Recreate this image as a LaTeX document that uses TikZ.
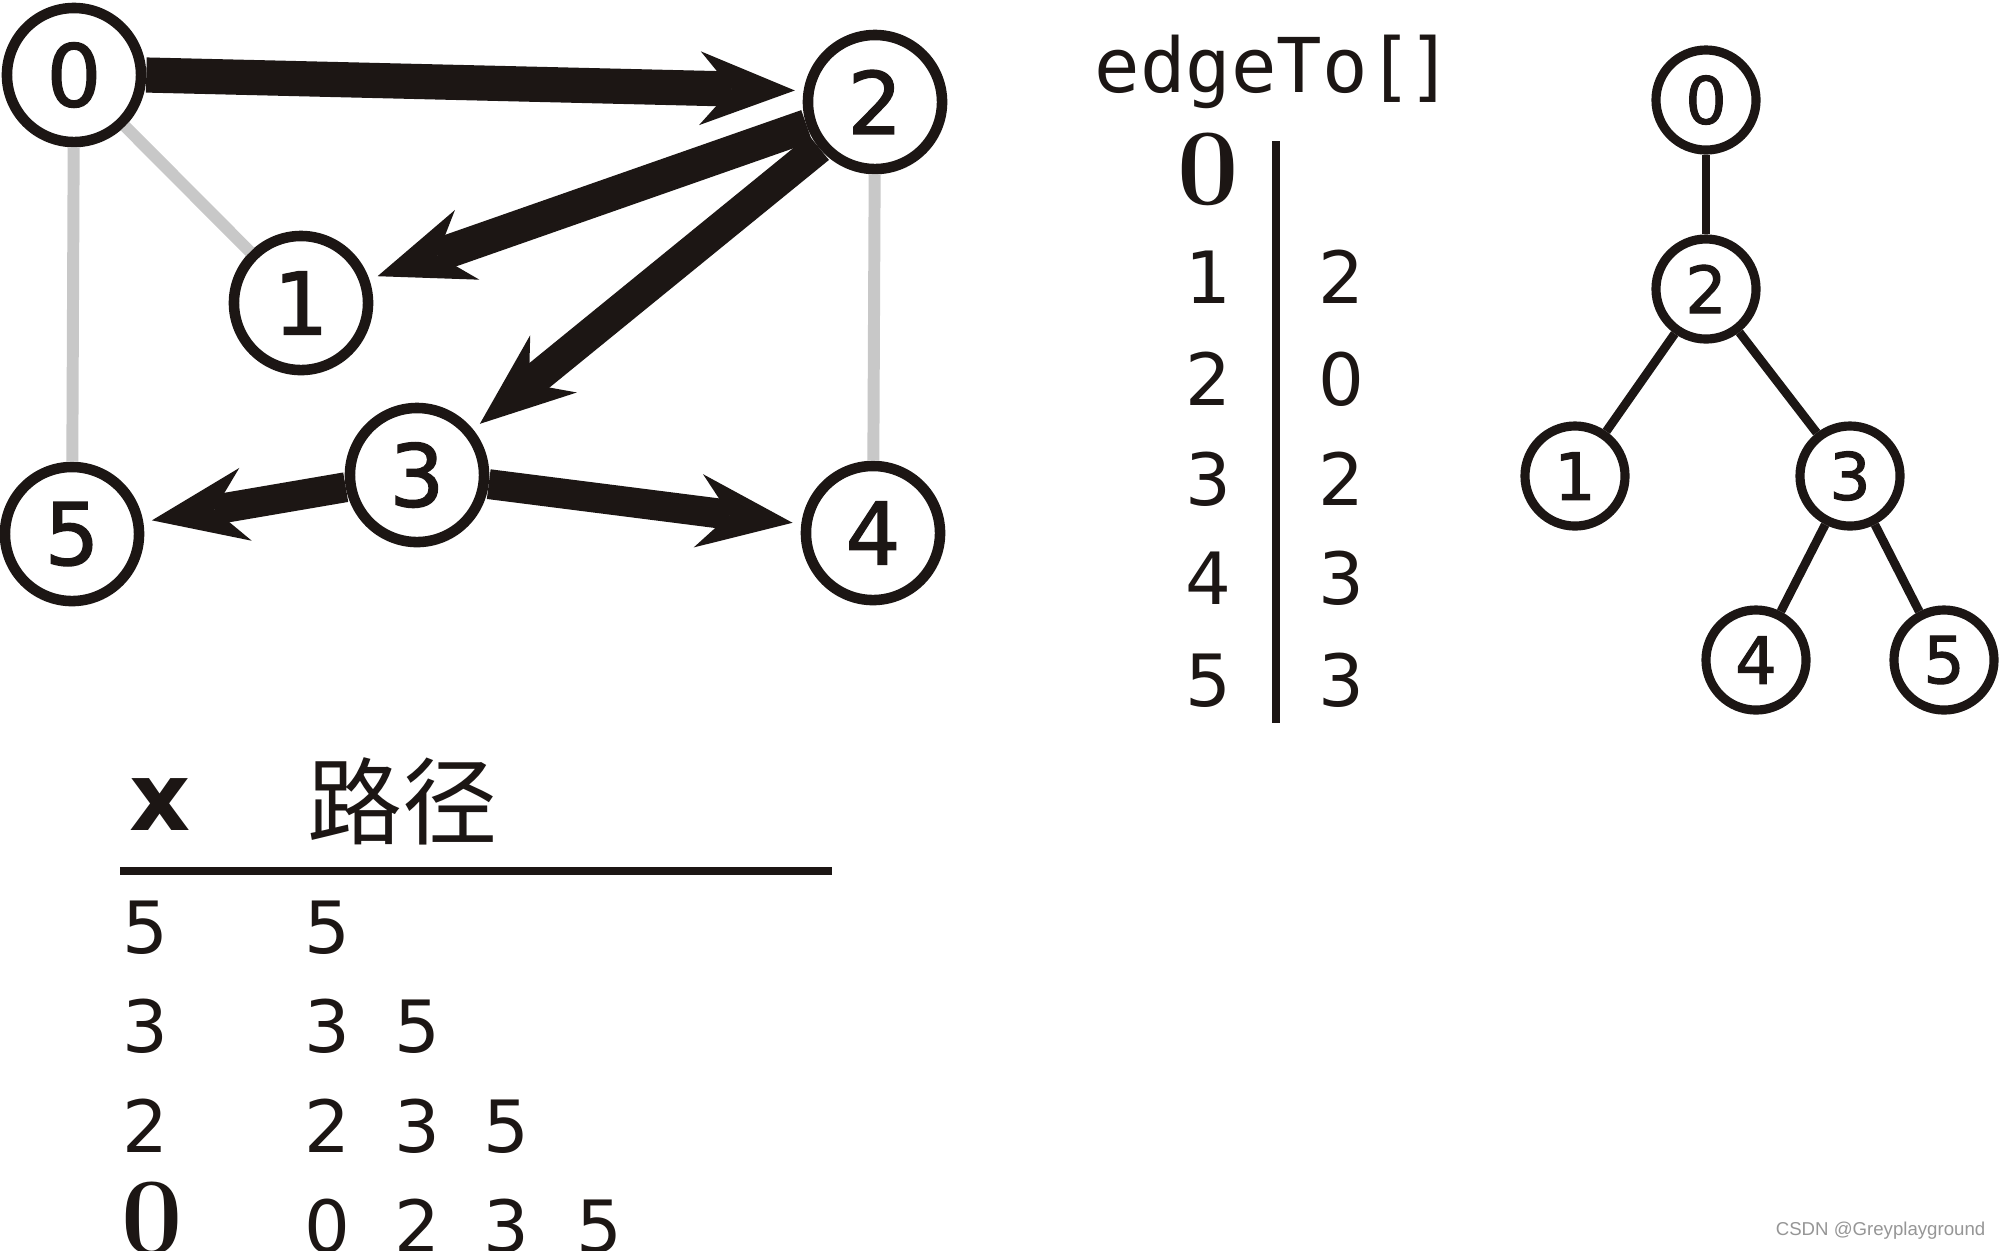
\documentclass[tikz,border=0pt]{standalone}
\usepackage{fontspec}
\setmainfont{DejaVu Sans}
\newfontfamily\cjkf{Noto Sans CJK SC}
\newfontfamily\monof{DejaVu Sans Mono}
\newfontfamily\lmf{Latin Modern Roman}
\newfontfamily\gnum[FakeBold=1.6]{DejaVu Sans}
\newfontfamily\wmf{Liberation Sans}
\usetikzlibrary{arrows.meta}
\definecolor{edgegray}{RGB}{200,200,200}
\definecolor{inkc}{RGB}{28,22,20}
\definecolor{wmgray}{RGB}{150,150,150}
\begin{document}
\begin{tikzpicture}[x=0.01cm,y=-0.01cm,
  gnode/.style={circle,draw=inkc,fill=white,line width=3pt,minimum size=1.34cm,inner sep=0pt,text=inkc,font=\gnum\fontsize{24.5}{24.5}\selectfont},
  tnode/.style={circle,draw=inkc,fill=white,line width=2.6pt,minimum size=1.0cm,inner sep=0pt,text=inkc,font=\gnum\fontsize{18.5}{18.5}\selectfont},
  grayedge/.style={line width=3.4pt,draw=edgegray},
  arr/.style={line width=#1,draw=inkc,-{Stealth[length=27pt,width=21pt,inset=9pt,line width=0pt]},shorten >=2.5pt},
  arr/.default=6.5pt,
  tedge/.style={line width=2.5pt,draw=inkc},
  numtxt/.style={anchor=base,inner sep=0pt,text=inkc,font=\fontsize{20.5}{20.5}\selectfont},
  boldzero/.style={anchor=base,inner sep=0pt,text=inkc,font=\lmf\bfseries\fontsize{31}{31}\selectfont}
]
\fill[white] (0,0) rectangle (2000,1250);
\useasboundingbox (0,0) rectangle (2000,1250);

% ---- left graph ----
\node[gnode] (g0) at (74,75) {0};
\node[gnode] (g2) at (875,102) {2};
\node[gnode] (g1) at (301,303) {1};
\node[gnode] (g3) at (417,475) {3};
\node[gnode] (g5) at (72,534) {5};
\node[gnode] (g4) at (873,533) {4};

\draw[grayedge] (g0) -- (g1);
\draw[grayedge] (g0) -- (g5);
\draw[grayedge] (g2) -- (g4);

\draw[arr=10pt] (g0.east) -- (g2.171);
\draw[arr=9.5pt] (g2) -- (g1);
\draw[arr=9pt] (g2) -- (g3);
\draw[arr=8.5pt] (g3) -- (g5);
\draw[arr=8.5pt] (g3) -- (g4);

% ---- edgeTo table ----
\node[anchor=base west,inner sep=0pt,text=inkc,font=\monof\fontsize{21.5}{21.5}\selectfont] (et) at (1094,92) {edgeTo[\kern-0.08em]};
\node[boldzero] (tz) at (1208,204) {0};
\node[numtxt] (l1) at (1208,303) {1};
\node[numtxt] (l2) at (1208,405) {2};
\node[numtxt] (l3) at (1208,505) {3};
\node[numtxt] (l4) at (1208,604) {4};
\node[numtxt] (l5) at (1208,706) {5};
\node[numtxt] (r1) at (1341,303) {2};
\node[numtxt] (r2) at (1341,405) {0};
\node[numtxt] (r3) at (1341,505) {2};
\node[numtxt] (r4) at (1341,604) {3};
\node[numtxt] (r5) at (1341,706) {3};
\coordinate (vt) at (1276,141);
\coordinate (vb) at (1276,723);
\draw[line width=2.4pt,draw=inkc] (vt) -- (vb);

% ---- tree ----
\node[tnode] (t0) at (1706,100) {0};
\node[tnode] (t2) at (1706,289) {2};
\node[tnode] (t1) at (1575,476) {1};
\node[tnode] (t3) at (1850,476) {3};
\node[tnode] (t4) at (1756,660) {4};
\node[tnode] (t5) at (1944,660) {5};
\draw[tedge] (t0) -- (t2);
\draw[tedge] (t2) -- (t1);
\draw[tedge] (t2) -- (t3);
\draw[tedge] (t3) -- (t4);
\draw[tedge] (t3) -- (t5);

% ---- path table ----
\node[anchor=base,inner sep=0pt,text=inkc,font=\bfseries\fontsize{27}{27}\selectfont] (hx) at (160,830) {x};
\node[anchor=center,inner sep=0pt,text=inkc,font=\cjkf\fontsize{27}{27}\selectfont] (hp) at (402,801) {路径};
\coordinate (hl) at (120,871);
\coordinate (hr) at (832,871);
\draw[line width=2.3pt,draw=inkc] (hl) -- (hr);

\node[numtxt] (b1) at (145,953) {5};
\node[numtxt] (b2) at (145,1052) {3};
\node[numtxt] (b3) at (145,1152) {2};
\node[boldzero] (b4) at (152,1253) {0};

\node[numtxt] (p11) at (327,953) {5};
\node[numtxt] (p21) at (327,1052) {3};
\node[numtxt] (p22) at (417,1052) {5};
\node[numtxt] (p31) at (327,1152) {2};
\node[numtxt] (p32) at (417,1152) {3};
\node[numtxt] (p33) at (506,1152) {5};
\node[numtxt] (p41) at (327,1252) {0};
\node[numtxt] (p42) at (417,1252) {2};
\node[numtxt] (p43) at (506,1252) {3};
\node[numtxt] (p44) at (599,1252) {5};

% ---- watermark ----
\node[anchor=east,inner sep=0pt,text=wmgray,font=\wmf\fontsize{5.3}{6}\selectfont] (wm) at (1986,1231) {CSDN @Greyplayground};
\end{tikzpicture}
\end{document}
